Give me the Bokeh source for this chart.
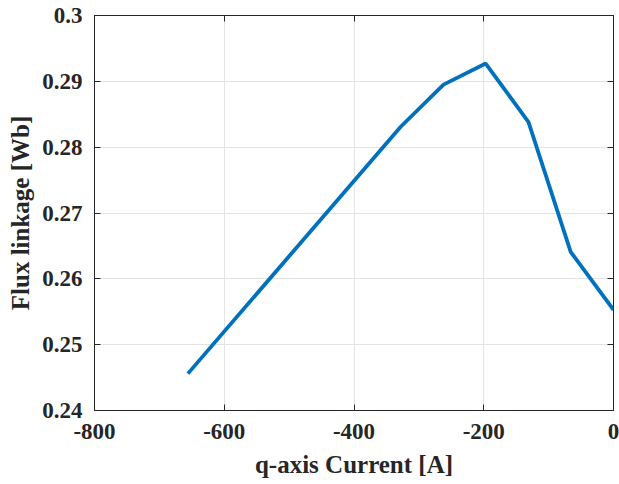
from bokeh.plotting import figure
from bokeh.models import FixedTicker, LinearAxis, CustomJSTickFormatter, Range1d
from bokeh.embed import file_html
from bokeh.resources import INLINE

# data
iq = [-656, -328, -262, -197, -131, -66, 0]
psi = [0.2456, 0.2831, 0.2895, 0.2927, 0.2838, 0.2641, 0.2553]
x_ticks = [-800, -600, -400, -200, 0]
y_ticks = [0.24, 0.25, 0.26, 0.27, 0.28, 0.29, 0.30]

FONT = "Liberation Serif"
DARK = "#262626"

p = figure(frame_width=519, frame_height=395, width=619, height=481,
           output_backend="svg", toolbar_location=None,
           x_range=Range1d(-800, 0), y_range=Range1d(0.24, 0.30),
           min_border_left=94, min_border_right=6, min_border_top=15, min_border_bottom=71)
p.outline_line_color = DARK
p.outline_line_width = 1
p.background_fill_color = "white"
p.border_fill_color = "white"

p.line(iq, psi, line_color="#0072BD", line_width=3.8)

for ax, ticks in ((p.xaxis[0], x_ticks), (p.yaxis[0], y_ticks)):
    ax.ticker = FixedTicker(ticks=ticks)
    ax.major_tick_in = 6
    ax.major_tick_out = 0
    ax.minor_tick_line_color = None
    ax.axis_line_color = DARK
    ax.major_tick_line_color = DARK
    ax.major_label_text_font = FONT
    ax.major_label_text_font_style = "bold"
    ax.major_label_text_font_size = "23px"
    ax.major_label_text_color = DARK
    ax.axis_label_text_font = FONT
    ax.axis_label_text_font_style = "bold"
    ax.axis_label_text_font_size = "25px"
    ax.axis_label_text_color = DARK

p.yaxis[0].formatter = CustomJSTickFormatter(code="return tick.toFixed(2).replace(/0$/, '');")
p.xaxis[0].formatter = CustomJSTickFormatter(code="return String(Math.round(tick));")
p.xaxis[0].axis_label = "q-axis Current [A]"
p.yaxis[0].axis_label = "Flux linkage [Wb]"
p.xaxis[0].major_label_standoff = 13
p.yaxis[0].major_label_standoff = 12
p.xaxis[0].axis_label_standoff = 9
p.yaxis[0].axis_label_standoff = 5

for loc, ticks in (("above", x_ticks), ("right", y_ticks)):
    a = LinearAxis(ticker=FixedTicker(ticks=ticks),
                   formatter=CustomJSTickFormatter(code="return '';"))
    a.major_tick_in = 6
    a.major_tick_out = 0
    a.minor_tick_line_color = None
    a.major_label_standoff = 0
    a.axis_line_color = DARK
    a.major_tick_line_color = DARK
    p.add_layout(a, loc)

p.xgrid.ticker = FixedTicker(ticks=x_ticks)
p.ygrid.ticker = FixedTicker(ticks=y_ticks)
p.grid.grid_line_color = "#e3e3e3"
p.grid.grid_line_width = 1

open("out.html", "w").write(file_html(p, INLINE))
